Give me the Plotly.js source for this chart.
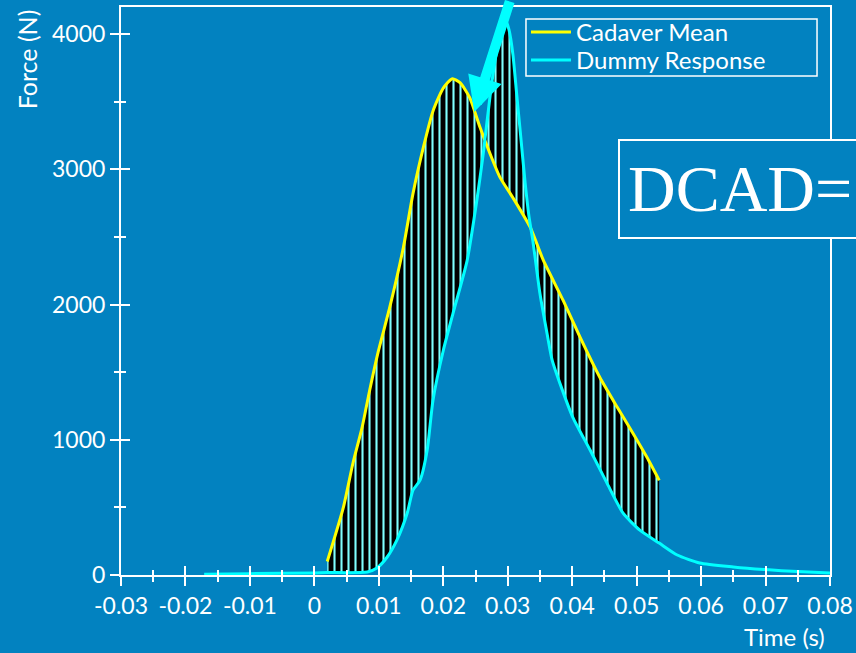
<!DOCTYPE html>
<html>
<head>
<meta charset="utf-8">
<script src="https://cdn.plot.ly/plotly-3.0.1.min.js"></script>
<style>html,body{margin:0;padding:0;background:#0282C0;}#chart{width:856px;height:653px;}</style>
</head>
<body>
<div id="chart"></div>
<script>
// ---- data ----
const cadaverTime = [0.002, 0.0045, 0.006, 0.0074, 0.0086, 0.0099, 0.0117, 0.0138, 0.0153, 0.0169, 0.0184, 0.0200, 0.0214, 0.0226, 0.0241, 0.0257, 0.0273, 0.0288, 0.0308, 0.0335, 0.0355, 0.0386, 0.0412, 0.0443, 0.0470, 0.0494, 0.0516, 0.0535];
const cadaverForce = [100, 500, 830, 1090, 1370, 1650, 1980, 2420, 2820, 3160, 3430, 3600, 3670, 3640, 3530, 3310, 3110, 2940, 2790, 2570, 2330, 2030, 1760, 1460, 1240, 1050, 870, 700];

const dummyTime = [-0.0171, -0.01, 0, 0.002, 0.0082, 0.0097, 0.0113, 0.0128, 0.0144, 0.0153, 0.0164, 0.0175, 0.0184, 0.0200, 0.0215, 0.0237, 0.0252, 0.0262, 0.0273, 0.0283, 0.0290, 0.0296, 0.0302, 0.0308, 0.0314, 0.0320, 0.0327, 0.0333, 0.0339, 0.0350, 0.0361, 0.0369, 0.0381, 0.0401, 0.0428, 0.0454, 0.0479, 0.0505, 0.0535, 0.0563, 0.0598, 0.065, 0.07, 0.075, 0.08];
const dummyForce = [5, 10, 15, 18, 22, 52, 133, 258, 457, 627, 701, 922, 1291, 1660, 1933, 2325, 2768, 3114, 3557, 3880, 4060, 4110, 4030, 3850, 3550, 3250, 2900, 2650, 2472, 2081, 1786, 1587, 1417, 1166, 922, 679, 457, 332, 236, 148, 89, 60, 40, 25, 15];

const xTickVals = [-0.03, -0.02, -0.01, 0, 0.01, 0.02, 0.03, 0.04, 0.05, 0.06, 0.07, 0.08];
const xTickText = ['-0.03', '-0.02', '-0.01', '0', '0.01', '0.02', '0.03', '0.04', '0.05', '0.06', '0.07', '0.08'];
const yTickVals = [0, 1000, 2000, 3000, 4000];
const yTickText = ['0', '1000', '2000', '3000', '4000'];

const seriesNames = ['Cadaver Mean', 'Dummy Response'];
const xTitle = 'Time (s)';
const yTitle = 'Force (N)';
const boxText = 'DCAD=';

// ---- styling ----
const BG = '#0282C0';
const YELLOW = '#FFFF00';
const CYAN = '#00FFFF';
const FONT = 'Lato, "Open Sans", sans-serif';

// dummy response restricted to the cadaver time span (for the hatched area)
const tMin = cadaverTime[0], tMax = cadaverTime[cadaverTime.length - 1];
const clipIdx = dummyTime.map((t, i) => i).filter(i => dummyTime[i] >= tMin - 1e-9 && dummyTime[i] <= tMax + 1e-9);
const dummyClipT = clipIdx.map(i => dummyTime[i]);
const dummyClipF = clipIdx.map(i => dummyForce[i]);

const smooth = {shape: 'spline', smoothing: 0.6};

const traces = [
  {x: dummyClipT, y: dummyClipF, mode: 'lines', line: Object.assign({width: 0, color: CYAN}, smooth),
   showlegend: false, hoverinfo: 'skip'},
  {x: cadaverTime, y: cadaverForce, mode: 'lines', line: Object.assign({width: 0, color: YELLOW}, smooth),
   fill: 'tonexty', fillcolor: 'black',
   fillpattern: {shape: '|', bgcolor: 'black', fgcolor: '#7FFFFF', size: 7, solidity: 0.3, fillmode: 'replace'},
   showlegend: false, hoverinfo: 'skip'},
  {x: cadaverTime, y: cadaverForce, mode: 'lines', name: seriesNames[0], legend: 'legend',
   line: Object.assign({width: 3, color: YELLOW}, smooth)},
  {x: dummyTime, y: dummyForce, mode: 'lines', name: seriesNames[1], legend: 'legend2',
   line: Object.assign({width: 3, color: CYAN}, smooth)},
  {x: [], y: [], xaxis: 'x2', yaxis: 'y2', showlegend: false, hoverinfo: 'skip'}
];

const axCommon = {
  showgrid: false, zeroline: false, color: 'white',
  tickcolor: 'white', tickwidth: 2, ticklen: 9,
  tickfont: {family: FONT, size: 23, color: 'white'}
};

const legendCommon = {
  xanchor: 'left', yanchor: 'top', traceorder: 'normal',
  bgcolor: 'rgba(0,0,0,0)', borderwidth: 0,
  font: {family: FONT, size: 24, color: 'white'}, itemwidth: 40
};

const layout = {
  width: 856, height: 653,
  paper_bgcolor: BG, plot_bgcolor: BG,
  margin: {l: 121, r: 26, t: 7, b: 78, pad: 0},
  showlegend: true,
  xaxis: Object.assign({}, axCommon, {
    range: [-0.03, 0.08], tickmode: 'array', tickvals: xTickVals, ticktext: xTickText,
    ticks: 'outside', showline: true, linecolor: 'white', linewidth: 2, mirror: true,
    minor: {tickmode: 'linear', tick0: -0.03, dtick: 0.005, ticks: 'outside', ticklen: 5, tickwidth: 2, tickcolor: 'white'}
  }),
  yaxis: Object.assign({}, axCommon, {
    range: [0, 4200], tickmode: 'array', tickvals: yTickVals, ticktext: yTickText,
    ticks: 'outside', showline: true, linecolor: 'white', linewidth: 2, mirror: true,
    minor: {tickmode: 'linear', tick0: 0, dtick: 500, ticks: 'outside', ticklen: 5, tickwidth: 2, tickcolor: 'white'}
  }),
  xaxis2: Object.assign({}, axCommon, {
    overlaying: 'x', anchor: 'y2', side: 'bottom',
    range: [-0.03, 0.08], tickmode: 'array', tickvals: xTickVals,
    ticks: 'inside', showticklabels: false, showline: false,
    minor: {tickmode: 'linear', tick0: -0.03, dtick: 0.005, ticks: 'inside', ticklen: 5, tickwidth: 2, tickcolor: 'white'}
  }),
  yaxis2: Object.assign({}, axCommon, {
    overlaying: 'y', anchor: 'x2', side: 'left',
    range: [0, 4200], tickmode: 'array', tickvals: yTickVals,
    ticks: 'inside', showticklabels: false, showline: false,
    minor: {tickmode: 'linear', tick0: 0, dtick: 500, ticks: 'inside', ticklen: 5, tickwidth: 2, tickcolor: 'white'}
  }),
  legend: Object.assign({x: 0.5712, y: 0.9947}, legendCommon),
  legend2: Object.assign({x: 0.5712, y: 0.9454}, legendCommon),
  shapes: [
    {type: 'rect', xref: 'paper', yref: 'paper', x0: 0.5712, x1: 0.9817, y0: 0.8785, y1: 0.9789,
     line: {color: 'white', width: 1.5}, fillcolor: 'rgba(0,0,0,0)', layer: 'above'},
    {type: 'rect', xref: 'paper', yref: 'paper', x0: 0.7024, x1: 1.1, y0: 0.5933, y1: 0.7658,
     line: {color: 'white', width: 2}, fillcolor: BG, layer: 'above'}
  ],
  annotations: [
    {xref: 'paper', yref: 'paper', x: -0.1326, y: 0.908, text: yTitle, textangle: -90,
     showarrow: false, xanchor: 'center', yanchor: 'middle', font: {family: FONT, size: 25, color: 'white'}},
    {xref: 'paper', yref: 'paper', x: 0.9365, y: -0.1085, text: xTitle, borderpad: 0,
     showarrow: false, xanchor: 'center', yanchor: 'middle', font: {family: FONT, size: 24, color: 'white'}},
    {xref: 'paper', yref: 'paper', x: 0.712, y: 0.6796, text: boxText,
     showarrow: false, xanchor: 'left', yanchor: 'middle',
     font: {family: '"Liberation Serif", "DejaVu Serif", serif', size: 66, color: 'white'}},
    {xref: 'x', yref: 'y', x: 0.0248, y: 3423, ax: 36, ay: -125, text: '',
     showarrow: true, arrowhead: 2, arrowsize: 0.7, arrowwidth: 10, arrowcolor: CYAN, standoff: 0}
  ]
};

Plotly.newPlot('chart', traces, layout, {displayModeBar: false, staticPlot: true});
</script>
</body>
</html>
